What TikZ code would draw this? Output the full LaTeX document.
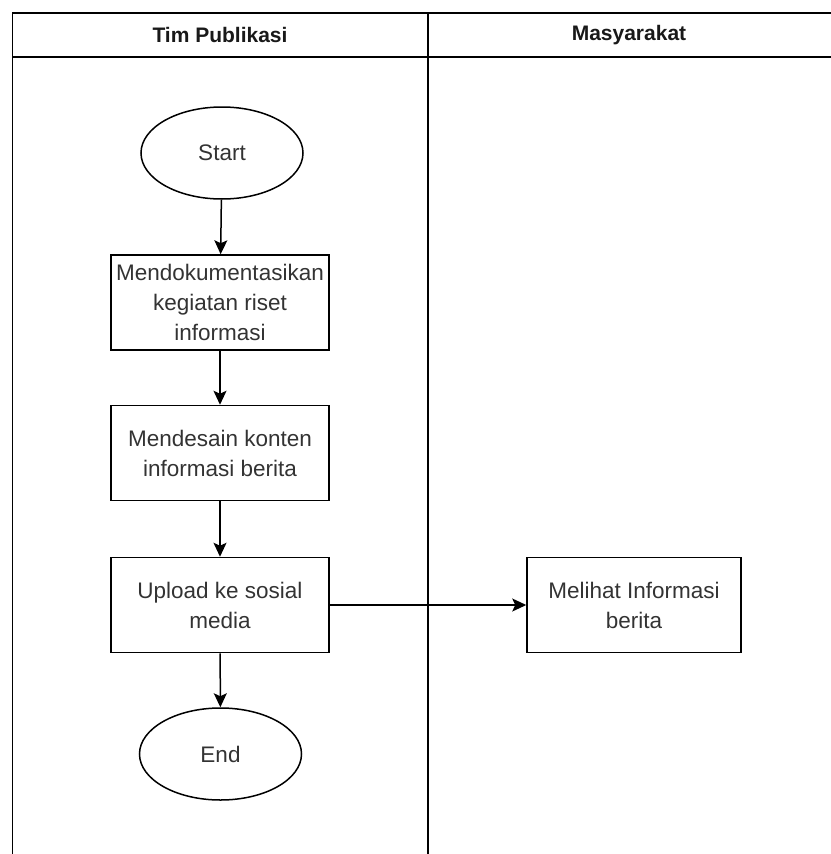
\documentclass[tikz,border=0pt]{standalone}
\usepackage{fontspec}
\setmainfont{Liberation Sans}
\usetikzlibrary{arrows.meta,shapes.geometric}
\begin{document}
\begin{tikzpicture}[x=1pt,y=-1pt,
  line width=1.5pt,
  lane/.style={draw=black,line width=1.5pt},
  term/.style={ellipse,draw,line width=1.5pt,minimum width=162pt,minimum height=92pt,inner sep=0pt,text=black!80,font=\fontsize{22.5}{30}\selectfont},
  proc/.style={rectangle,draw,line width=1.5pt,minimum width=218pt,minimum height=95pt,inner sep=0pt,align=center,text=black!80,font=\fontsize{22.5}{30}\selectfont},
  head/.style={text=black!90,font=\bfseries\fontsize{21}{26}\selectfont},
  flow/.style={-{Stealth[length=14pt,width=13pt,inset=3pt]},line width=1.5pt}]
\useasboundingbox (0,0) rectangle (830,854);
% swimlanes
\draw[lane] (12.5,854) -- (12.5,13) -- (831,13);
\draw[lane] (12.5,57) -- (831,57);
\draw[lane] (428,13) -- (428,854);
\node[head] (h1) at (220,35) {Tim Publikasi};
\node[head] (h2) at (629,35) {Masyarakat};
% nodes
\node[term] (start) at (222,153) {Start};
\node[proc] (p1) at (220,302.5) {Mendokumentasikan\\kegiatan riset\\informasi};
\node[proc] (p2) at (220,453) {Mendesain konten\\informasi berita};
\node[proc] (p3) at (220,605) {Upload ke sosial\\media};
\node[proc,minimum width=214pt] (p4) at (634,605) {Melihat Informasi\\berita};
\node[term] (end) at (220.5,754) {End};
% connectors
\draw[flow] (start) -- (p1);
\draw[flow] (p1) -- (p2);
\draw[flow] (p2) -- (p3);
\draw[flow] (p3) -- (end);
\draw[flow] (p3) -- (p4);
\end{tikzpicture}
\end{document}
